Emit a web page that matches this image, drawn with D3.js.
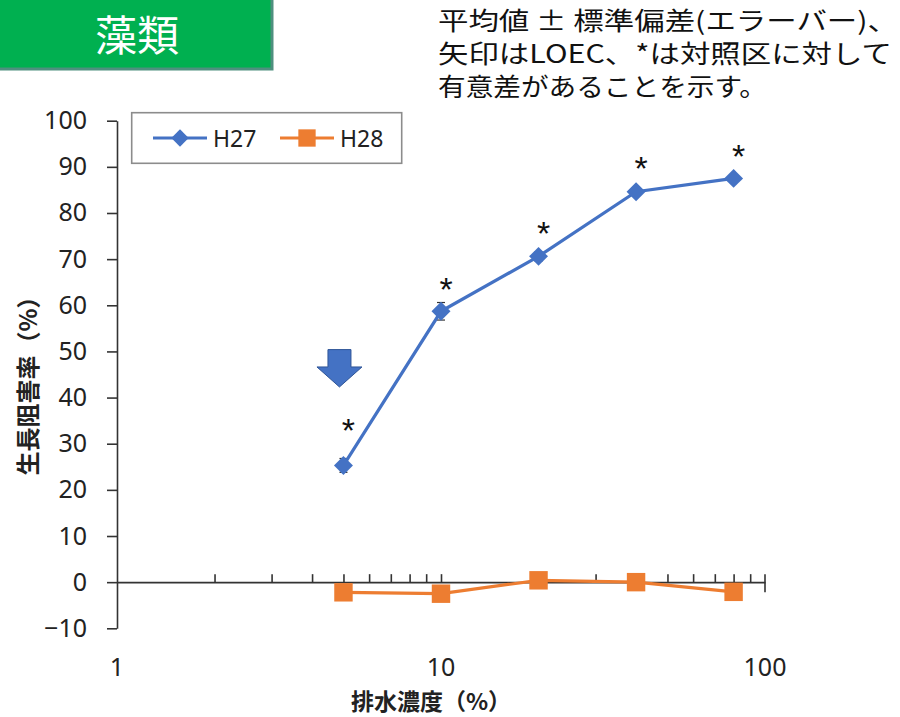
<!DOCTYPE html>
<html><head><meta charset="utf-8">
<script src="https://cdn.jsdelivr.net/npm/d3@7"></script>
<style>
html,body{margin:0;padding:0;background:#fff;}
svg{display:block;}
</style>
</head><body>
<svg id="c" width="900" height="717"></svg>
<script>
// ---- data ----
const concentrations = [5, 10, 20, 40, 80];
const seriesNames = ["H27", "H28"];
const h27 = [25.3, 58.7, 70.6, 84.6, 87.5];
const h27sd = [1.5, 1.9, 1.0, 0.8, 0.8];
const h28 = [-2.2, -2.5, 0.4, 0.0, -2.1];
const h28sd = [0.8, 0.8, 0.8, 0.8, 0.8];
const sigLevels = [34.7, 65.3, 77.4, 91.4, 94.1]; // '*' annotation heights (data units)
const loec = 5;
const yTicks = [-10, 0, 10, 20, 30, 40, 50, 60, 70, 80, 90, 100];
const xLabelTicks = [1, 10, 100];
const xMinorTicks = [2,3,4,5,6,7,8,9,10,20,30,40,50,60,70,80,90];
const titleText = "藻類";
const noteLines = ["平均値 ± 標準偏差(エラーバー)、", "矢印はLOEC、*は対照区に対して", "有意差があることを示す。"];
const yTitle = "生長阻害率（%）";
const xTitle = "排水濃度（%）";

const blue = "#4472C4", orange = "#ED7D31";
const svg = d3.select("#c");
const x = d3.scaleLog().domain([1, 100]).range([117, 765]);
const y = d3.scaleLinear().domain([-10, 100]).range([628.3, 120.7]);
const numFont = "'Noto Sans', 'Open Sans', sans-serif";
const cjkFont = "'Noto Sans CJK JP', sans-serif";

// title box
svg.append("rect").attr("x", -4).attr("y", -4).attr("width", 276).attr("height", 73)
  .attr("fill", "#00B050").attr("stroke", "#4F8F7F").attr("stroke-width", 3);
svg.append("text").attr("x", 137).attr("y", 51).attr("text-anchor", "middle")
  .attr("font-family", cjkFont).attr("font-size", 42).attr("fill", "#fff").text(titleText);

// note
const noteW = [460, 454, 329];
noteLines.forEach((t, i) => {
  svg.append("text").attr("x", 438).attr("y", 30 + i * 33)
    .attr("font-family", cjkFont).attr("font-size", 25).attr("fill", "#111")
    .attr("textLength", noteW[i]).attr("lengthAdjust", "spacingAndGlyphs").text(t);
});

// y axis
const yAxis = svg.append("g").attr("transform", `translate(${x(1)},0)`)
  .call(d3.axisLeft(y).tickValues(yTicks).tickSize(10).tickSizeOuter(0).tickPadding(20).tickFormat(d3.format("d")));
yAxis.selectAll("path,line").attr("stroke", "#333").attr("stroke-width", 1.6);
yAxis.selectAll("text").attr("font-family", numFont).attr("font-size", 25).attr("fill", "#222");

// x axis at y=0
const xAxis = svg.append("g").attr("transform", `translate(0,${y(0)})`)
  .call(d3.axisTop(x).tickValues(xMinorTicks).tickSize(8).tickSizeOuter(0).tickFormat(""));
xAxis.selectAll("path,line").attr("stroke", "#333").attr("stroke-width", 1.6);
svg.append("line").attr("x1", x(100)).attr("x2", x(100)).attr("y1", y(0) - 8).attr("y2", y(0) + 10)
  .attr("stroke", "#333").attr("stroke-width", 1.6);
svg.append("g").selectAll("text").data(xLabelTicks).join("text")
  .attr("x", d => x(d)).attr("y", 676).attr("text-anchor", "middle")
  .attr("font-family", numFont).attr("font-size", 25).attr("fill", "#222").text(d => d);

// axis titles
svg.append("text").attr("transform", `translate(37,380) rotate(-90)`).attr("text-anchor", "middle")
  .attr("font-family", cjkFont).attr("font-weight", "bold").attr("font-size", 24).attr("fill", "#222").text(yTitle);
svg.append("text").attr("x", 431).attr("y", 710).attr("text-anchor", "middle")
  .attr("font-family", cjkFont).attr("font-weight", "bold").attr("font-size", 23).attr("fill", "#222").text(xTitle);

// series
function drawSeries(vals, sds, color, shape) {
  const g = svg.append("g");
  const pts = concentrations.map((c, i) => ({c, v: vals[i], sd: sds[i]}));
  g.selectAll("line.err").data(pts).join("line")
    .attr("x1", d => x(d.c)).attr("x2", d => x(d.c)).attr("y1", d => y(d.v - d.sd)).attr("y2", d => y(d.v + d.sd))
    .attr("stroke", "#333").attr("stroke-width", 1.2);
  g.selectAll("line.cap").data(pts.flatMap(d => [d.v - d.sd, d.v + d.sd].map(v => ({c: d.c, v})))).join("line")
    .attr("x1", d => x(d.c) - 4).attr("x2", d => x(d.c) + 4).attr("y1", d => y(d.v)).attr("y2", d => y(d.v))
    .attr("stroke", "#333").attr("stroke-width", 1.2);
  g.append("path").datum(pts).attr("fill", "none").attr("stroke", color).attr("stroke-width", 3.2)
    .attr("d", d3.line().x(d => x(d.c)).y(d => y(d.v)));
  g.selectAll("path.m").data(pts).join("path")
    .attr("d", d3.symbol().type(d3.symbolSquare).size(shape === "d" ? 180 : 340))
    .attr("transform", d => `translate(${x(d.c)},${y(d.v)}) rotate(${shape === "d" ? 45 : 0})`)
    .attr("fill", color);
}
drawSeries(h27, h27sd, blue, "d");
drawSeries(h28, h28sd, orange, "s");

// significance stars
svg.append("g").selectAll("text").data(concentrations).join("text")
  .attr("x", d => x(d) + 5).attr("y", (d, i) => y(sigLevels[i]) + 20).attr("text-anchor", "middle")
  .attr("font-family", "'Liberation Sans', Arial, sans-serif").attr("font-size", 34).attr("fill", "#111").text("*");

// LOEC arrow
const ax = x(loec) - 4, aTop = y(50.4), aTip = y(42.3);
const headY = aTip - 20;
svg.append("path")
  .attr("d", `M${ax-11.5},${aTop} L${ax+11.5},${aTop} L${ax+11.5},${headY} L${ax+22.5},${headY} L${ax},${aTip} L${ax-22.5},${headY} L${ax-11.5},${headY} Z`)
  .attr("fill", blue).attr("stroke", "#2F5597").attr("stroke-width", 1);

// legend
const lg = svg.append("g");
lg.append("rect").attr("x", 131.7).attr("y", 112.7).attr("width", 270).attr("height", 50.6)
  .attr("fill", "#fff").attr("stroke", "#8c8c8c").attr("stroke-width", 1.6);
const legItems = [{name: seriesNames[0], color: blue, shape: "d", x0: 153}, {name: seriesNames[1], color: orange, shape: "s", x0: 280}];
legItems.forEach(it => {
  lg.append("line").attr("x1", it.x0).attr("x2", it.x0 + 54).attr("y1", 138).attr("y2", 138)
    .attr("stroke", it.color).attr("stroke-width", 3.2);
  lg.append("path").attr("d", d3.symbol().type(d3.symbolSquare).size(it.shape === "d" ? 150 : 300))
    .attr("transform", `translate(${it.x0 + 27},138) rotate(${it.shape === "d" ? 45 : 0})`).attr("fill", it.color);
  lg.append("text").attr("x", it.x0 + 60).attr("y", 146.5).attr("font-family", numFont).attr("font-size", 23)
    .attr("fill", "#222").text(it.name);
});
</script>
</body></html>
